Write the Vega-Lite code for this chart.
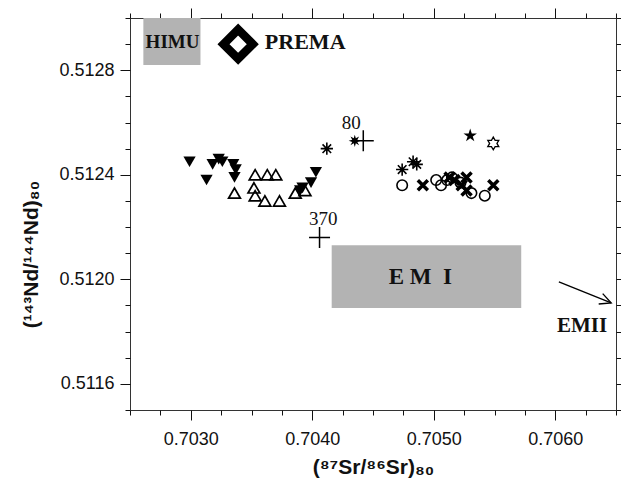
{
  "$schema": "https://vega.github.io/schema/vega-lite/v6.json",
  "width": 486,
  "height": 392,
  "autosize": {"type": "none"},
  "padding": {"left": 130, "top": 18, "right": 5, "bottom": 78},
  "background": "white",
  "config": {
    "view": {"stroke": null},
    "axis": {"grid": false, "labelFont": "Liberation Sans", "titleFont": "Liberation Sans", "domainColor": "#333333", "tickColor": "#111111", "labelColor": "#111111", "titleColor": "#111111"}
  },
  "datasets": {
    "boxes": [
      {"name": "HIMU", "sr": 0.70261, "sr2": 0.70308, "nd": 0.51282, "nd2": 0.5130},
      {"name": "EM I", "sr": 0.70416, "sr2": 0.70572, "nd": 0.51189, "nd2": 0.51213}
    ],
    "points": [
      {"group": "tri_down", "sr": 0.70299, "nd": 0.51245},
      {"group": "tri_down", "sr": 0.70313, "nd": 0.51238},
      {"group": "tri_down", "sr": 0.70318, "nd": 0.51244},
      {"group": "tri_down", "sr": 0.70323, "nd": 0.51246},
      {"group": "tri_down", "sr": 0.70326, "nd": 0.51245},
      {"group": "tri_down", "sr": 0.70335, "nd": 0.51244},
      {"group": "tri_down", "sr": 0.70337, "nd": 0.51242},
      {"group": "tri_down", "sr": 0.70336, "nd": 0.51239},
      {"group": "tri_down", "sr": 0.70390, "nd": 0.51234},
      {"group": "tri_down", "sr": 0.70392, "nd": 0.51235},
      {"group": "tri_down", "sr": 0.70399, "nd": 0.51237},
      {"group": "tri_down", "sr": 0.70403, "nd": 0.51241},
      {"group": "tri_up", "sr": 0.70336, "nd": 0.51233},
      {"group": "tri_up", "sr": 0.70353, "nd": 0.51240},
      {"group": "tri_up", "sr": 0.70363, "nd": 0.51240},
      {"group": "tri_up", "sr": 0.70370, "nd": 0.51240},
      {"group": "tri_up", "sr": 0.70352, "nd": 0.51235},
      {"group": "tri_up", "sr": 0.70353, "nd": 0.51232},
      {"group": "tri_up", "sr": 0.70361, "nd": 0.51230},
      {"group": "tri_up", "sr": 0.70373, "nd": 0.51230},
      {"group": "tri_up", "sr": 0.70386, "nd": 0.51233},
      {"group": "tri_up", "sr": 0.70394, "nd": 0.51234},
      {"group": "asterisk", "sr": 0.70412, "nd": 0.51250},
      {"group": "asterisk", "sr": 0.70474, "nd": 0.51242},
      {"group": "asterisk", "sr": 0.70483, "nd": 0.51245},
      {"group": "asterisk", "sr": 0.70486, "nd": 0.51244},
      {"group": "circle", "sr": 0.70474, "nd": 0.51236},
      {"group": "circle", "sr": 0.70502, "nd": 0.51238},
      {"group": "circle", "sr": 0.70506, "nd": 0.51236},
      {"group": "circle", "sr": 0.70511, "nd": 0.51238},
      {"group": "circle", "sr": 0.70515, "nd": 0.51239},
      {"group": "circle", "sr": 0.70522, "nd": 0.51237},
      {"group": "circle", "sr": 0.70531, "nd": 0.51233},
      {"group": "circle", "sr": 0.70542, "nd": 0.51232},
      {"group": "xcross", "sr": 0.70491, "nd": 0.51236},
      {"group": "xcross", "sr": 0.70513, "nd": 0.51239},
      {"group": "xcross", "sr": 0.70517, "nd": 0.51238},
      {"group": "xcross", "sr": 0.70527, "nd": 0.51239},
      {"group": "xcross", "sr": 0.70523, "nd": 0.51236},
      {"group": "xcross", "sr": 0.70527, "nd": 0.51234},
      {"group": "xcross", "sr": 0.70549, "nd": 0.51236},
      {"group": "star5", "sr": 0.70530, "nd": 0.51255},
      {"group": "star6", "sr": 0.70549, "nd": 0.51252},
      {"group": "burst", "sr": 0.70435, "nd": 0.51253},
      {"group": "plus", "sr": 0.70442, "nd": 0.51253},
      {"group": "plus", "sr": 0.70406, "nd": 0.51216},
      {"group": "prema", "sr": 0.70339, "nd": 0.51290}
    ],
    "labels": [
      {"label": "HIMU", "sr": 0.70285, "nd": 0.51291},
      {"label": "PREMA", "sr": 0.70361, "nd": 0.51291},
      {"label": "E M\u00a0 I", "sr": 0.70489, "nd": 0.51201},
      {"label": "EMII", "sr": 0.70622, "nd": 0.51182},
      {"label": "80", "sr": 0.70432, "nd": 0.51260},
      {"label": "370", "sr": 0.70409, "nd": 0.51223}
    ],
    "arrow": [
      {"sr": 0.70603, "nd": 0.51199, "sr2": 0.70646, "nd2": 0.51191}
    ]
  },
  "resolve": {"axis": {"x": "independent", "y": "independent"}},
  "layer": [
    {
      "data": {"name": "boxes"},
      "mark": {"type": "rect", "fill": "#b3b3b3", "stroke": null},
      "encoding": {
        "x": {"field": "sr", "type": "quantitative", "scale": {"domain": [0.7025, 0.7065], "nice": false, "zero": false},
          "axis": {"orient": "bottom", "values": [0.703, 0.704, 0.705, 0.706], "format": ".4f", "tickSize": 10, "labelPadding": 10, "labelFontSize": 18,
            "title": "(\u2078\u2077Sr/\u2078\u2076Sr)\u2088\u2080", "titleFontSize": 21, "titleFontWeight": "bold", "titlePadding": 8}},
        "x2": {"field": "sr2"},
        "y": {"field": "nd", "type": "quantitative", "scale": {"domain": [0.5115, 0.5130], "nice": false, "zero": false},
          "axis": {"orient": "left", "values": [0.5116, 0.512, 0.5124, 0.5128], "format": ".4f", "tickSize": 10, "labelPadding": 6, "labelFontSize": 18,
            "title": "(\u00b9\u2074\u00b3Nd/\u00b9\u2074\u2074Nd)\u2088\u2080", "titleFontSize": 21, "titleFontWeight": "bold", "titlePadding": 17, "titleY": 236}},
        "y2": {"field": "nd2"}
      }
    },
    {
      "data": {"name": "points"},
      "transform": [{"filter": "datum.group === 'tri_down'"}],
      "mark": {"type": "point", "shape": "triangle-down", "filled": true, "color": "black", "size": 150, "opacity": 1},
      "encoding": {
        "x": {"field": "sr", "type": "quantitative", "scale": {"domain": [0.7025, 0.7065], "nice": false, "zero": false},
          "axis": {"orient": "bottom", "values": [0.7025, 0.70275, 0.703, 0.70325, 0.7035, 0.70375, 0.704, 0.70425, 0.7045, 0.70475, 0.705, 0.70525, 0.7055, 0.70575, 0.706, 0.70625, 0.7065], "labels": false, "domain": false, "tickSize": 5, "title": null}},
        "y": {"field": "nd", "type": "quantitative", "scale": {"domain": [0.5115, 0.5130], "nice": false, "zero": false},
          "axis": {"orient": "left", "values": [0.5115, 0.5116, 0.5117, 0.5118, 0.5119, 0.512, 0.5121, 0.5122, 0.5123, 0.5124, 0.5125, 0.5126, 0.5127, 0.5128, 0.5129, 0.513], "labels": false, "domain": false, "tickSize": 5, "title": null}}
      }
    },
    {
      "data": {"name": "points"},
      "transform": [{"filter": "datum.group === 'tri_up'"}],
      "mark": {"type": "point", "shape": "triangle-up", "filled": false, "color": "black", "strokeWidth": 1.7, "size": 140, "opacity": 1},
      "encoding": {
        "x": {"field": "sr", "type": "quantitative", "scale": {"domain": [0.7025, 0.7065], "nice": false, "zero": false},
          "axis": {"orient": "top", "values": [0.703, 0.704, 0.705, 0.706], "labels": false, "tickSize": 10, "title": null}},
        "y": {"field": "nd", "type": "quantitative", "scale": {"domain": [0.5115, 0.5130], "nice": false, "zero": false},
          "axis": {"orient": "right", "values": [0.5116, 0.512, 0.5124, 0.5128], "labels": false, "tickSize": 10, "title": null}}
      }
    },
    {
      "data": {"name": "points"},
      "transform": [{"filter": "datum.group === 'asterisk'"}],
      "mark": {"type": "point", "shape": "M-1,0L1,0M0,-1L0,1M-0.7,-0.7L0.7,0.7M-0.7,0.7L0.7,-0.7", "filled": false, "color": "black", "strokeWidth": 1.6, "size": 150, "opacity": 1},
      "encoding": {
        "x": {"field": "sr", "type": "quantitative", "scale": {"domain": [0.7025, 0.7065], "nice": false, "zero": false},
          "axis": {"orient": "top", "values": [0.7025, 0.70275, 0.703, 0.70325, 0.7035, 0.70375, 0.704, 0.70425, 0.7045, 0.70475, 0.705, 0.70525, 0.7055, 0.70575, 0.706, 0.70625, 0.7065], "labels": false, "domain": false, "tickSize": 5, "title": null}},
        "y": {"field": "nd", "type": "quantitative", "scale": {"domain": [0.5115, 0.5130], "nice": false, "zero": false},
          "axis": {"orient": "right", "values": [0.5115, 0.5116, 0.5117, 0.5118, 0.5119, 0.512, 0.5121, 0.5122, 0.5123, 0.5124, 0.5125, 0.5126, 0.5127, 0.5128, 0.5129, 0.513], "labels": false, "domain": false, "tickSize": 5, "title": null}}
      }
    },
    {
      "data": {"name": "points"},
      "transform": [{"filter": "datum.group === 'circle'"}],
      "mark": {"type": "point", "shape": "circle", "filled": false, "color": "black", "strokeWidth": 1.6, "size": 110, "opacity": 1},
      "encoding": {
        "x": {"field": "sr", "type": "quantitative", "scale": {"domain": [0.7025, 0.7065], "nice": false, "zero": false}, "axis": null},
        "y": {"field": "nd", "type": "quantitative", "scale": {"domain": [0.5115, 0.5130], "nice": false, "zero": false}, "axis": null}
      }
    },
    {
      "data": {"name": "points"},
      "transform": [{"filter": "datum.group === 'xcross'"}],
      "mark": {"type": "point", "shape": "M-1,-1L1,1M-1,1L1,-1", "filled": false, "color": "black", "strokeWidth": 3.5, "size": 100, "opacity": 1},
      "encoding": {
        "x": {"field": "sr", "type": "quantitative", "scale": {"domain": [0.7025, 0.7065], "nice": false, "zero": false}, "axis": null},
        "y": {"field": "nd", "type": "quantitative", "scale": {"domain": [0.5115, 0.5130], "nice": false, "zero": false}, "axis": null}
      }
    },
    {
      "data": {"name": "points"},
      "transform": [{"filter": "datum.group === 'star5'"}],
      "mark": {"type": "point", "shape": "M0,-1L0.225,-0.309L0.951,-0.309L0.363,0.118L0.588,0.809L0,0.382L-0.588,0.809L-0.363,0.118L-0.951,-0.309L-0.225,-0.309Z", "filled": true, "color": "black", "size": 200, "opacity": 1},
      "encoding": {
        "x": {"field": "sr", "type": "quantitative", "scale": {"domain": [0.7025, 0.7065], "nice": false, "zero": false}, "axis": null},
        "y": {"field": "nd", "type": "quantitative", "scale": {"domain": [0.5115, 0.5130], "nice": false, "zero": false}, "axis": null}
      }
    },
    {
      "data": {"name": "points"},
      "transform": [{"filter": "datum.group === 'star6'"}],
      "mark": {"type": "point", "shape": "M0,-1L0.289,-0.5L0.866,-0.5L0.577,0L0.866,0.5L0.289,0.5L0,1L-0.289,0.5L-0.866,0.5L-0.577,0L-0.866,-0.5L-0.289,-0.5Z", "filled": false, "color": "black", "strokeWidth": 1.3, "size": 160, "opacity": 1},
      "encoding": {
        "x": {"field": "sr", "type": "quantitative", "scale": {"domain": [0.7025, 0.7065], "nice": false, "zero": false}, "axis": null},
        "y": {"field": "nd", "type": "quantitative", "scale": {"domain": [0.5115, 0.5130], "nice": false, "zero": false}, "axis": null}
      }
    },
    {
      "data": {"name": "points"},
      "transform": [{"filter": "datum.group === 'burst'"}],
      "mark": {"type": "point", "shape": "M0,-1L0.172,-0.416L0.707,-0.707L0.416,-0.172L1,0L0.416,0.172L0.707,0.707L0.172,0.416L0,1L-0.172,0.416L-0.707,0.707L-0.416,0.172L-1,0L-0.416,-0.172L-0.707,-0.707L-0.172,-0.416Z", "filled": true, "color": "black", "size": 150, "opacity": 1},
      "encoding": {
        "x": {"field": "sr", "type": "quantitative", "scale": {"domain": [0.7025, 0.7065], "nice": false, "zero": false}, "axis": null},
        "y": {"field": "nd", "type": "quantitative", "scale": {"domain": [0.5115, 0.5130], "nice": false, "zero": false}, "axis": null}
      }
    },
    {
      "data": {"name": "points"},
      "transform": [{"filter": "datum.group === 'plus'"}],
      "mark": {"type": "point", "shape": "M-1,0L1,0M0,-1L0,1", "filled": false, "color": "black", "strokeWidth": 1.5, "size": 440, "opacity": 1},
      "encoding": {
        "x": {"field": "sr", "type": "quantitative", "scale": {"domain": [0.7025, 0.7065], "nice": false, "zero": false}, "axis": null},
        "y": {"field": "nd", "type": "quantitative", "scale": {"domain": [0.5115, 0.5130], "nice": false, "zero": false}, "axis": null}
      }
    },
    {
      "data": {"name": "points"},
      "transform": [{"filter": "datum.group === 'prema'"}],
      "mark": {"type": "point", "shape": "diamond", "filled": false, "color": "black", "strokeWidth": 8.5, "size": 860, "opacity": 1},
      "encoding": {
        "x": {"field": "sr", "type": "quantitative", "scale": {"domain": [0.7025, 0.7065], "nice": false, "zero": false}, "axis": null},
        "y": {"field": "nd", "type": "quantitative", "scale": {"domain": [0.5115, 0.5130], "nice": false, "zero": false}, "axis": null}
      }
    },
    {
      "data": {"name": "arrow"},
      "mark": {"type": "rule", "color": "black", "strokeWidth": 1.4},
      "encoding": {
        "x": {"field": "sr", "type": "quantitative", "scale": {"domain": [0.7025, 0.7065], "nice": false, "zero": false}, "axis": null},
        "y": {"field": "nd", "type": "quantitative", "scale": {"domain": [0.5115, 0.5130], "nice": false, "zero": false}, "axis": null},
        "x2": {"field": "sr2"},
        "y2": {"field": "nd2"}
      }
    },
    {
      "data": {"name": "arrow"},
      "mark": {"type": "point", "shape": "M-1,-0.5L0,0L-1,0.5", "filled": false, "color": "black", "strokeWidth": 1.4, "size": 500, "angle": 21, "opacity": 1},
      "encoding": {
        "x": {"field": "sr2", "type": "quantitative", "scale": {"domain": [0.7025, 0.7065], "nice": false, "zero": false}, "axis": null},
        "y": {"field": "nd2", "type": "quantitative", "scale": {"domain": [0.5115, 0.5130], "nice": false, "zero": false}, "axis": null}
      }
    },
    {
      "data": {"name": "labels"},
      "transform": [{"filter": "datum.label === 'HIMU'"}],
      "mark": {"type": "text", "font": "Liberation Serif", "fontWeight": "bold", "fontSize": 19, "color": "#111111", "align": "center", "baseline": "middle"},
      "encoding": {
        "x": {"field": "sr", "type": "quantitative", "scale": {"domain": [0.7025, 0.7065], "nice": false, "zero": false}, "axis": null},
        "y": {"field": "nd", "type": "quantitative", "scale": {"domain": [0.5115, 0.5130], "nice": false, "zero": false}, "axis": null},
        "text": {"field": "label"}
      }
    },
    {
      "data": {"name": "labels"},
      "transform": [{"filter": "datum.label === 'PREMA'"}],
      "mark": {"type": "text", "font": "Liberation Serif", "fontWeight": "bold", "fontSize": 22, "color": "#111111", "align": "left", "baseline": "middle"},
      "encoding": {
        "x": {"field": "sr", "type": "quantitative", "scale": {"domain": [0.7025, 0.7065], "nice": false, "zero": false}, "axis": null},
        "y": {"field": "nd", "type": "quantitative", "scale": {"domain": [0.5115, 0.5130], "nice": false, "zero": false}, "axis": null},
        "text": {"field": "label"}
      }
    },
    {
      "data": {"name": "labels"},
      "transform": [{"filter": "datum.label === 'E M\u00a0 I'"}],
      "mark": {"type": "text", "font": "Liberation Serif", "fontWeight": "bold", "fontSize": 23, "color": "#111111", "align": "center", "baseline": "middle"},
      "encoding": {
        "x": {"field": "sr", "type": "quantitative", "scale": {"domain": [0.7025, 0.7065], "nice": false, "zero": false}, "axis": null},
        "y": {"field": "nd", "type": "quantitative", "scale": {"domain": [0.5115, 0.5130], "nice": false, "zero": false}, "axis": null},
        "text": {"field": "label"}
      }
    },
    {
      "data": {"name": "labels"},
      "transform": [{"filter": "datum.label === 'EMII'"}],
      "mark": {"type": "text", "font": "Liberation Serif", "fontWeight": "bold", "fontSize": 21, "color": "#111111", "align": "center", "baseline": "middle"},
      "encoding": {
        "x": {"field": "sr", "type": "quantitative", "scale": {"domain": [0.7025, 0.7065], "nice": false, "zero": false}, "axis": null},
        "y": {"field": "nd", "type": "quantitative", "scale": {"domain": [0.5115, 0.5130], "nice": false, "zero": false}, "axis": null},
        "text": {"field": "label"}
      }
    },
    {
      "data": {"name": "labels"},
      "transform": [{"filter": "datum.label === '80' || datum.label === '370'"}],
      "mark": {"type": "text", "font": "Liberation Serif", "fontSize": 19, "color": "#111111", "align": "center", "baseline": "middle"},
      "encoding": {
        "x": {"field": "sr", "type": "quantitative", "scale": {"domain": [0.7025, 0.7065], "nice": false, "zero": false}, "axis": null},
        "y": {"field": "nd", "type": "quantitative", "scale": {"domain": [0.5115, 0.5130], "nice": false, "zero": false}, "axis": null},
        "text": {"field": "label"}
      }
    }
  ]
}
